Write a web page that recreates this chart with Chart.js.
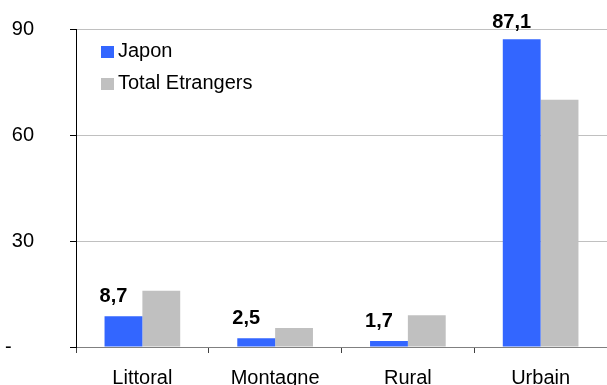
<!DOCTYPE html>
<html>
<head>
<meta charset="utf-8">
<script src="https://cdn.jsdelivr.net/npm/chart.js@4"></script>
<style>
  html, body { margin: 0; padding: 0; background: #ffffff; }
  #wrap { width: 607px; height: 385px; }
</style>
</head>
<body>
<div id="wrap"><canvas id="chart"></canvas></div>
<script>
const categories = ["Littoral", "Montagne", "Rural", "Urbain"];
const japon = [8.7, 2.5, 1.7, 87.1];
const totalEtrangers = [15.9, 5.4, 9.0, 70.0];
const yTickLabels = { 0: "-", 30: "30", 60: "60", 90: "90" };

const FONT = "Arial, 'Liberation Sans', sans-serif";

// valeurs au-dessus des barres Japon (virgule décimale)
const valueLabels = {
  id: "valueLabels",
  afterDatasetsDraw(chart) {
    const { ctx } = chart;
    const meta = chart.getDatasetMeta(0);
    ctx.save();
    ctx.font = "bold 20px " + FONT;
    ctx.fillStyle = "#000000";
    ctx.textAlign = "center";
    ctx.textBaseline = "alphabetic";
    meta.data.forEach((bar, i) => {
      const txt = japon[i].toFixed(1).replace(".", ",");
      const y = Math.max(bar.y - 14, 28);
      ctx.fillText(txt, bar.x - 10, y);
    });
    ctx.restore();
  },
};

// légende dans la zone du graphique
const innerLegend = {
  id: "innerLegend",
  afterDraw(chart) {
    const { ctx } = chart;
    ctx.save();
    ctx.font = "20px " + FONT;
    ctx.textBaseline = "alphabetic";
    ctx.textAlign = "left";
    chart.data.datasets.forEach((ds, i) => {
      const base = 57 + i * 32;
      ctx.fillStyle = ds.backgroundColor;
      ctx.fillRect(101, base - 11, 13, 12);
      ctx.fillStyle = "#000000";
      ctx.fillText(ds.label, 118, base);
    });
    ctx.restore();
  },
};

const ctx = document.getElementById("chart").getContext("2d");
new Chart(ctx, {
  type: "bar",
  data: {
    labels: categories,
    datasets: [
      {
        label: "Japon",
        data: japon,
        backgroundColor: "#3366ff",
        borderWidth: 0,
      },
      {
        label: "Total Etrangers",
        data: totalEtrangers,
        backgroundColor: "#c0c0c0",
        borderWidth: 0,
      },
    ],
  },
  options: {
    responsive: true,
    maintainAspectRatio: false,
    animation: false,
    layout: { padding: { top: 29, left: 0, right: 0, bottom: 0 } },
    datasets: {
      bar: { categoryPercentage: 0.57, barPercentage: 1.0 },
    },
    plugins: {
      legend: { display: false },
      tooltip: { enabled: false },
    },
    scales: {
      x: {
        grid: {
          offset: true,
          drawOnChartArea: false,
          drawTicks: true,
          tickLength: 6,
          tickColor: "#404040",
        },
        border: { display: true, color: "#808080", width: 1 },
        ticks: {
          color: "#000000",
          font: { family: FONT, size: 20 },
          padding: 13,
          maxRotation: 0,
        },
        afterFit(scale) {
          scale.height = 38;
          scale.paddingLeft = 0;
          scale.paddingRight = 0;
        },
      },
      y: {
        min: 0,
        max: 90,
        grid: {
          color: (c) => (c.tick && c.tick.value === 0 ? "#808080" : "#c0c0c0"),
          tickColor: "#000000",
          tickLength: 6,
          drawTicks: true,
        },
        border: { display: true, color: "#000000", width: 1 },
        ticks: {
          stepSize: 30,
          color: "#000000",
          font: { family: FONT, size: 20 },
          padding: 36,
          callback: (v) => (v === 0 ? yTickLabels[0] + "    " : yTickLabels[v]),
        },
        afterFit(scale) {
          scale.width = 76;
          scale.paddingTop = 0;
          scale.paddingBottom = 0;
        },
      },
    },
  },
  plugins: [valueLabels, innerLegend],
});
</script>
</body>
</html>
